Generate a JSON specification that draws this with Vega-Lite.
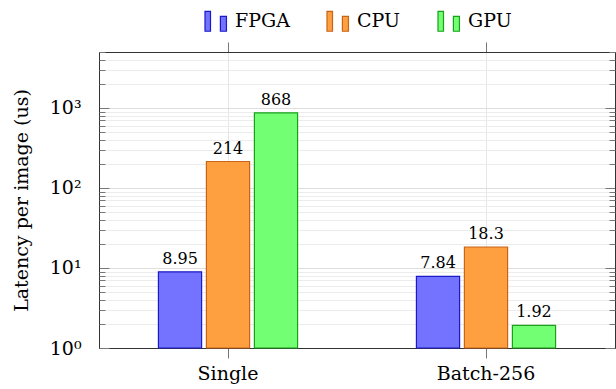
{
  "$schema": "https://vega.github.io/schema/vega-lite/v6.json",
  "width": 516,
  "height": 296,
  "autosize": {"type": "none"},
  "padding": {"left": 99, "top": 52, "right": 1, "bottom": 41},
  "background": "white",
  "config": {
    "view": {"stroke": "#333", "strokeWidth": 1},
    "font": "DejaVu Serif",
    "style": {
      "guide-label": {"font": "DejaVu Serif"},
      "guide-title": {"font": "DejaVu Serif"}
    },
    "axis": {"labelFont": "DejaVu Serif", "titleFont": "DejaVu Serif", "labelColor": "black", "titleColor": "black", "domainColor": "#333", "tickColor": "#777", "gridColor": "#e6e6e6"}
  },
  "data": {
    "values": [
      {"cat": "Single", "device": "FPGA", "value": 8.95},
      {"cat": "Single", "device": "CPU", "value": 214},
      {"cat": "Single", "device": "GPU", "value": 868},
      {"cat": "Batch-256", "device": "FPGA", "value": 7.84},
      {"cat": "Batch-256", "device": "CPU", "value": 18.3},
      {"cat": "Batch-256", "device": "GPU", "value": 1.92}
    ]
  },
  "resolve": {"axis": {"x": "independent", "y": "independent"}},
  "layer": [
    {
      "mark": {"type": "bar", "strokeWidth": 1.2},
      "encoding": {
        "x": {
          "field": "cat", "type": "nominal", "sort": ["Single", "Batch-256"],
          "scale": {"paddingInner": 0.442, "paddingOuter": 0.221},
          "axis": {"orient": "bottom", "title": null, "labelAngle": 0, "labelFont": "DejaVu Serif", "labelFontSize": 19, "labelPadding": 6, "tickSize": 10, "grid": true, "domainColor": "#333"}
        },
        "xOffset": {
          "field": "device", "type": "nominal",
          "scale": {"domain": ["FPGA", "CPU", "GPU"], "paddingInner": 0.1, "paddingOuter": 0.05}
        },
        "y": {
          "field": "value", "type": "quantitative",
          "scale": {"type": "log", "domain": [1, 5000], "nice": false},
          "axis": {
            "orient": "left", "values": [1, 10, 100, 1000],
            "labelExpr": "datum.value == 1 ? '10⁰' : datum.value == 10 ? '10¹' : datum.value == 100 ? '10²' : '10³'",
            "labelFont": "DejaVu Serif", "titleFont": "DejaVu Serif",
            "labelFontSize": 19, "labelPadding": 28, "tickSize": -10, "grid": true, "gridColor": "#dedede",
            "title": "Latency per image (us)", "titleFontSize": 19, "titleFontWeight": "normal", "titlePadding": 18
          }
        },
        "y2": {"datum": 1},
        "fill": {
          "field": "device", "type": "nominal",
          "scale": {"domain": ["FPGA", "CPU", "GPU"], "range": ["#7373ff", "#ffa040", "#73ff73"]},
          "legend": {
            "title": null, "orient": "none", "direction": "horizontal", "legendX": 105, "legendY": -43,
            "symbolType": "M-1,-0.9H-0.5V0.9H-1Z M0.4,-0.45H0.95V0.9H0.4Z",
            "symbolSize": 484, "symbolStrokeWidth": 1.2, "labelFontSize": 19, "labelFont": "DejaVu Serif",
            "labelOffset": 7, "columnPadding": 34, "labelColor": "black"
          }
        },
        "stroke": {
          "field": "device", "type": "nominal",
          "scale": {"domain": ["FPGA", "CPU", "GPU"], "range": ["#1a1ac8", "#c8641a", "#1aa01a"]},
          "legend": {
            "title": null, "orient": "none", "direction": "horizontal", "legendX": 105, "legendY": -43,
            "symbolType": "M-1,-0.9H-0.5V0.9H-1Z M0.4,-0.45H0.95V0.9H0.4Z",
            "symbolSize": 484, "symbolStrokeWidth": 1.2, "labelFontSize": 19, "labelFont": "DejaVu Serif",
            "labelOffset": 7, "columnPadding": 34, "labelColor": "black"
          }
        }
      }
    },
    {
      "mark": {"type": "text", "baseline": "bottom", "dy": -5, "fontSize": 16, "font": "DejaVu Serif", "color": "black"},
      "encoding": {
        "x": {
          "field": "cat", "type": "nominal", "sort": ["Single", "Batch-256"],
          "axis": {"orient": "top", "title": null, "labels": false, "tickSize": 10, "grid": false}
        },
        "xOffset": {"field": "device", "type": "nominal"},
        "y": {
          "field": "value", "type": "quantitative",
          "axis": {"orient": "left", "values": [2,3,4,5,6,7,8,9,20,30,40,50,60,70,80,90,200,300,400,500,600,700,800,900,2000,3000,4000,5000], "labels": false, "tickSize": -6, "grid": true, "gridColor": "#ececec", "domain": false, "title": null}
        },
        "text": {"field": "value", "type": "quantitative", "format": ".3r"}
      }
    },
    {
      "mark": {"type": "point", "opacity": 0},
      "encoding": {
        "y": {
          "field": "value", "type": "quantitative",
          "axis": {"orient": "right", "values": [1, 10, 100, 1000], "labels": false, "tickSize": -10, "grid": false, "title": null}
        }
      }
    },
    {
      "mark": {"type": "point", "opacity": 0},
      "encoding": {
        "y": {
          "field": "value", "type": "quantitative",
          "axis": {"orient": "right", "values": [2,3,4,5,6,7,8,9,20,30,40,50,60,70,80,90,200,300,400,500,600,700,800,900,2000,3000,4000,5000], "labels": false, "tickSize": -6, "grid": false, "domain": false, "title": null}
        }
      }
    }
  ]
}
